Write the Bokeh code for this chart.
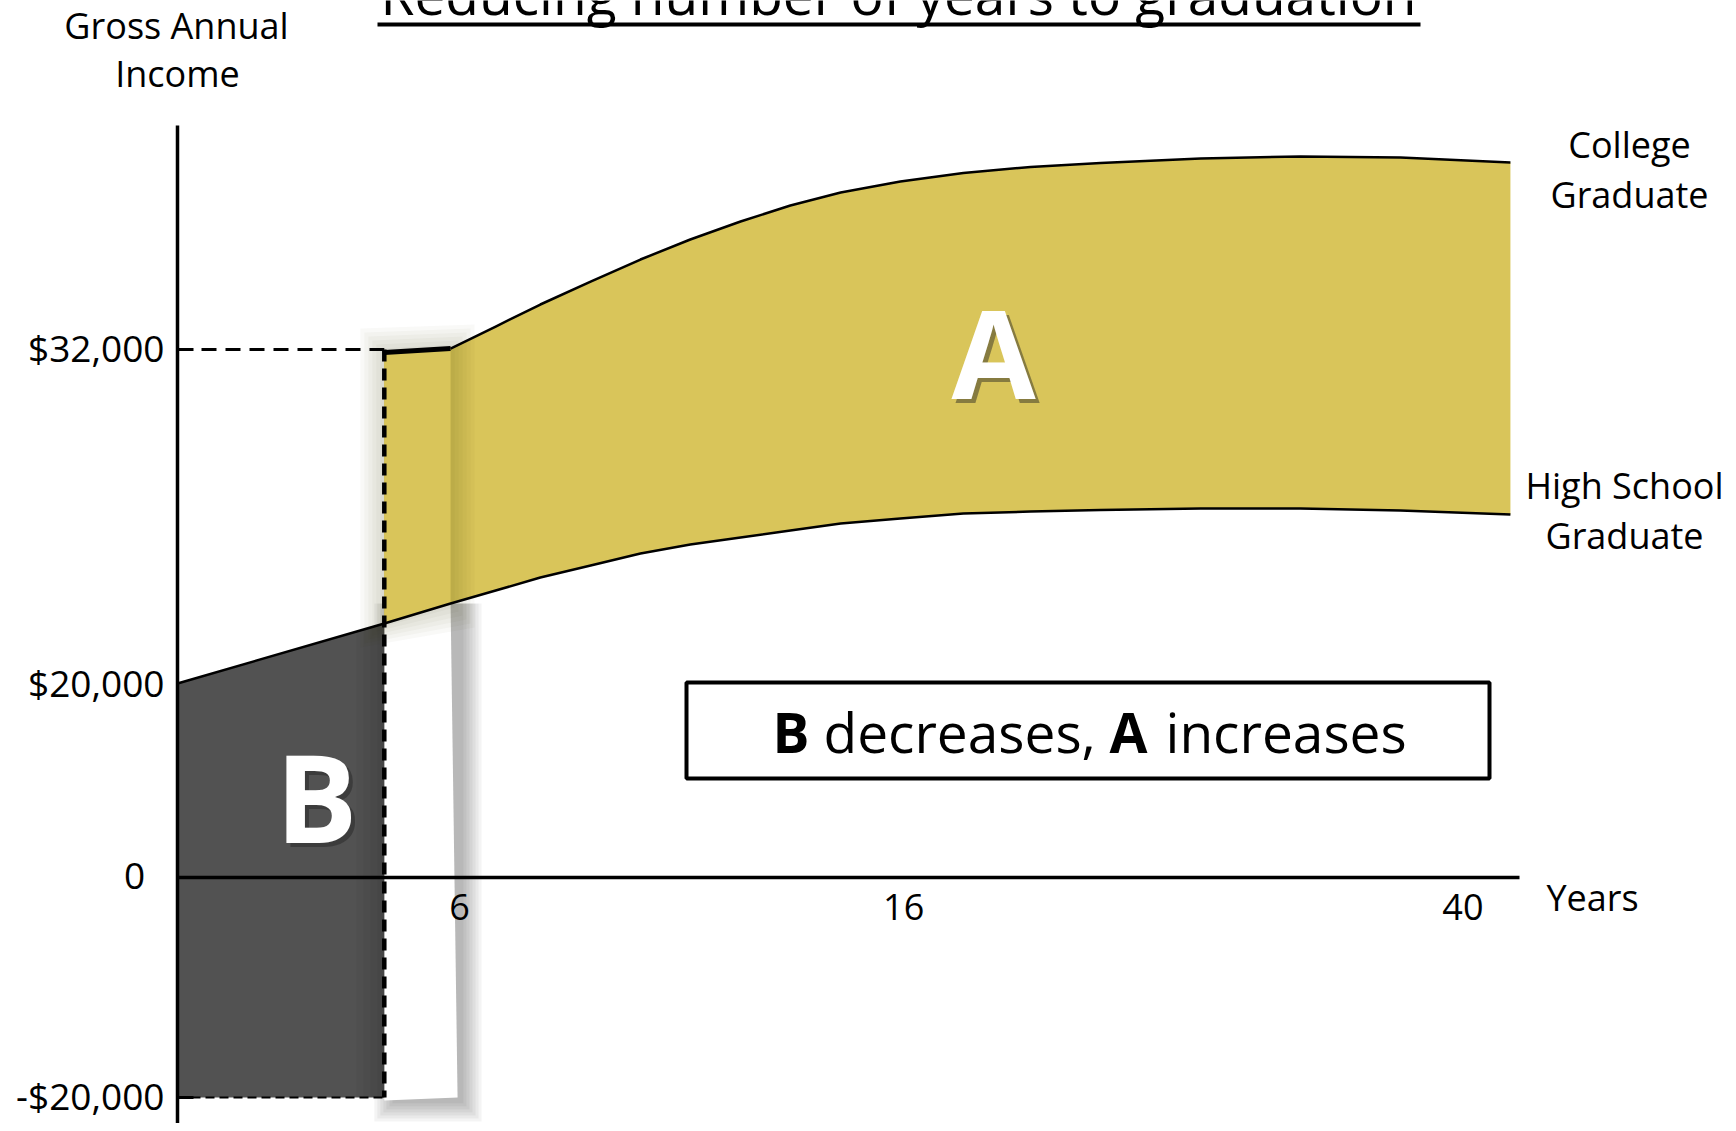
import numpy as np
from bokeh.plotting import figure
from bokeh.models import Range1d
from bokeh.core.properties import value
from bokeh.embed import file_html
from bokeh.resources import INLINE

# ---------------- data (schematic display units) ----------------
years = [0.0, 4.40, 5.81, 6.77, 7.72, 8.79, 9.85, 10.91, 11.98, 13.04, 14.11, 15.38,
         16.72, 18.15, 19.64, 21.77, 23.89, 26.02, 28.36]
high_school = [17.64, 23.09, 24.91, 26.09, 27.27, 28.36, 29.45, 30.27, 30.91, 31.55, 32.18, 32.64,
               33.09, 33.27, 33.41, 33.55, 33.55, 33.36, 33.0]
college = [47.73, 48.09, 50.09, 52.09, 54.18, 56.18, 58.0, 59.64, 61.09, 62.27, 63.27,
           64.05, 64.59, 64.95, 65.36, 65.55, 65.45, 65.0]  # from years[1]
cost_level = -20.0
top_level = 48.0

y_tick_pos = [48.0, 17.6, 0.0, -20.0]
y_tick_labels = ["$32,000", "$20,000", "0", "-$20,000"]
x_tick_pos = [6.0, 15.45, 27.35]
x_tick_labels = ["6", "16", "40"]

title = "Reducing number of years to graduation"
y_title = ["Gross Annual", "Income"]
x_title = "Years"
college_label = ["College", "Graduate"]
hs_label = ["High School", "Graduate"]

YELLOW = "#D9C55A"
DARK = "#525252"
FONT = value("Open Sans")

# ---------------- layout helpers (page pixels -> display units) ----------------
OX, OY, SX, SY = 177.0, 877.0, 47.0, 11.0
def ux(X): return (X - OX) / SX
def vy(Y): return (OY - Y) / SY
def dx(px): return px / SX
def dy(px): return px / SY

W, H = 1728, 1123
p = figure(width=W, height=H, x_range=Range1d(ux(0), ux(W)), y_range=Range1d(vy(H), vy(0)),
           output_backend="svg", toolbar_location=None, x_axis_location=None, y_axis_location=None,
           min_border=0, outline_line_color=None, background_fill_color="white", border_fill_color="white")
p.grid.visible = False

def txt(x, y, s, size, align="center", bold=False, color="black", alpha=1.0, xo=0, yo=0):
    p.text(x=[x], y=[y], text=[s], text_font=FONT, text_font_size=f"{size}px", text_align=align,
           text_baseline="alphabetic", text_color=color, text_alpha=alpha,
           text_font_style="bold" if bold else "normal", x_offset=xo, y_offset=yo - 0.4 * size)

strip_l = years[1]
strip_rt = years[2]
strip_rb = years[2] + dx(7)

# shadow of the white strip
for k in range(7):
    e = 3 * k
    p.quad(left=strip_l + dx(8 - e), right=strip_rb + dx(6 + e), top=high_school[2],
           bottom=cost_level - dy(6 + e), fill_color="black", fill_alpha=0.045, line_color=None)

# white strip
p.patch([strip_l, strip_rt, strip_rb, strip_l],
        [high_school[1], high_school[2], cost_level, cost_level - dy(3)],
        fill_color="white", line_color=None)

# B region
p.patch([years[0], years[1], years[1], years[0]],
        [high_school[0], high_school[1], cost_level, cost_level], fill_color=DARK, line_color=None)
for k in range(1, 5):
    xl = years[1] - dx(7 * k)
    yt = float(np.interp(xl, years, high_school))
    p.patch([xl, years[1], years[1], xl], [yt, high_school[1], cost_level, cost_level],
            fill_color="black", fill_alpha=0.035, line_color=None)

# A region
p.patch(years[1:] + years[1:][::-1], college + high_school[1:][::-1], fill_color=YELLOW, line_color=None)

# halo around the yellow strip
for k in range(1, 7):
    e = 4 * k
    p.patch([strip_l - dx(e), strip_rt + dx(e), strip_rt + dx(e), strip_l - dx(e)],
            [college[0] + dy(e), college[1] + dy(e), high_school[2] - dy(e), high_school[1] - dy(e)],
            fill_color="#3a3a00", fill_alpha=0.033, line_color=None)

# yellow strip on top
p.patch([strip_l, strip_rt, strip_rt, strip_l], [college[0], college[1], high_school[2], high_school[1]],
        fill_color=YELLOW, line_color=None)

# curves
p.line(years, high_school, line_color="black", line_width=2.5, line_join="round")
p.line(years[2:], college[1:], line_color="black", line_width=2.5, line_join="round")
p.line(years[1:3], college[:2], line_color="black", line_width=5)

# dashed guides
p.line([years[0], strip_l], [top_level, top_level], line_color="black", line_width=3, line_dash="15 9")
p.line([strip_l, strip_l], [top_level, cost_level], line_color="black", line_width=4.5, line_dash="12 7")
p.line([years[0], strip_l], [cost_level, cost_level], line_color="black", line_width=2, line_dash="9 5")

# axes
p.line([0, 0], [vy(125), vy(1140)], line_color="black", line_width=3.5)
p.line([0, ux(1519)], [0, 0], line_color="black", line_width=3.5)
for yt in (y_tick_pos[0], y_tick_pos[3]):
    p.line([0, dx(16)], [yt, yt], line_color="black", line_width=3)

# tick labels
for pos, lab in zip(y_tick_pos, y_tick_labels):
    if lab == "0":
        txt(ux(134), pos - dy(13), lab, 37)
    else:
        txt(ux(164), pos - dy(13), lab, 37, align="right")
for pos, lab in zip(x_tick_pos, x_tick_labels):
    txt(pos, vy(921), lab, 36)
txt(ux(1592), vy(911), x_title, 36)

# axis titles
txt(ux(176), vy(39), y_title[0], 36)
txt(ux(177), vy(87), y_title[1], 36)

# chart title (underlined)
txt(ux(898), vy(15), title, 55)
p.line([ux(377), ux(1420)], [vy(24), vy(24)], line_color="black", line_width=4)

# series labels
txt(ux(1629), vy(158), college_label[0], 36)
txt(ux(1629), vy(208), college_label[1], 36)
txt(ux(1624), vy(499), hs_label[0], 36)
txt(ux(1624), vy(549), hs_label[1], 36)

# big area letters with shadows
for s, X, Y in (("A", 993, 400), ("B", 316, 844)):
    txt(ux(X), vy(Y), s, 122, bold=True, color="#222222", alpha=0.45, xo=4, yo=4)
    txt(ux(X), vy(Y), s, 122, bold=True, color="white")

# text box
p.quad(left=ux(686), right=ux(1489), top=vy(682), bottom=vy(778), fill_color=None,
       line_color="black", line_width=4)
txt(ux(772), vy(753), "B", 55, align="left", bold=True)
txt(ux(823), vy(753), "decreases,", 55, align="left")
txt(ux(1109), vy(753), "A", 55, align="left", bold=True)
txt(ux(1165), vy(753), "increases", 55, align="left")

open("out.html", "w").write(file_html(p, INLINE))
